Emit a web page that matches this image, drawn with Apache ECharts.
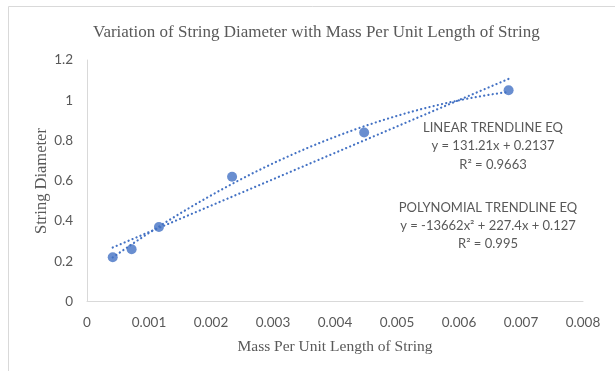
<!DOCTYPE html>
<html>
<head>
<meta charset="utf-8">
<script src="https://cdn.jsdelivr.net/npm/echarts@6/dist/echarts.min.js"></script>
<style>
html,body{margin:0;padding:0;background:#fff;}
#chart{width:615px;height:371px;}
</style>
</head>
<body>
<div id="chart"></div>
<script>
// Data
var massPerLength = [0.000415, 0.00072, 0.00116, 0.00234, 0.00447, 0.0068];
var stringDiameter = [0.22, 0.26, 0.37, 0.62, 0.84, 1.05];
// Trendline coefficients as printed on the chart
var linearCoef = [0.2137, 131.21];          // c0, c1
var polyCoef = [0.127, 227.4, -13662];      // c0, c1, c2
var xTicks = [0, 0.001, 0.002, 0.003, 0.004, 0.005, 0.006, 0.007, 0.008];
var yTicks = [0, 0.2, 0.4, 0.6, 0.8, 1, 1.2];
var titleText = 'Variation of String Diameter with Mass Per Unit Length of String';
var xName = 'Mass Per Unit Length of String';
var yName = 'String Diameter';
var linearLabel = ['LINEAR TRENDLINE EQ', 'y = 131.21x + 0.2137', 'R\u00B2 = 0.9663'];
var polyLabel = ['POLYNOMIAL TRENDLINE EQ', 'y = -13662x\u00B2 + 227.4x + 0.127', 'R\u00B2 = 0.995'];

function evalPoly(c, x) {
  var s = 0;
  for (var i = c.length - 1; i >= 0; i--) s = s * x + c[i];
  return s;
}
var xmin = Math.min.apply(null, massPerLength);
var xmax = Math.max.apply(null, massPerLength);
var linearLine = [[xmin, evalPoly(linearCoef, xmin)], [xmax, evalPoly(linearCoef, xmax)]];
var polyLine = [];
var N = 60;
for (var i = 0; i <= N; i++) {
  var xv = xmin + (xmax - xmin) * i / N;
  polyLine.push([xv, evalPoly(polyCoef, xv)]);
}
var points = massPerLength.map(function (x, i) { return [x, stringDiameter[i]]; });

var blue = '#4472C4';
var grey = '#595959';
var sans = 'Lato, "Open Sans", sans-serif';
var serif = '"Liberation Serif", "DejaVu Serif", serif';
var dotStyle = { color: blue, width: 2.2, type: [0.1, 4.2], cap: 'round' };

var chart = echarts.init(document.getElementById('chart'), null, { renderer: 'canvas' });
chart.setOption({
  animation: false,
  backgroundColor: '#ffffff',
  title: {
    text: titleText,
    left: 88,
    top: 19,
    textStyle: { fontFamily: serif, fontSize: 17, fontWeight: 'normal', color: grey }
  },
  grid: { left: 87, top: 60, width: 496, height: 241.5, containLabel: false },
  xAxis: {
    type: 'value',
    min: 0, max: 0.008, interval: 0.001,
    name: xName,
    nameLocation: 'middle',
    nameGap: 37,
    nameTextStyle: { fontFamily: serif, fontSize: 15.5, color: grey },
    axisLine: { show: true, lineStyle: { color: '#d9d9d9', width: 1 } },
    axisTick: { show: false },
    splitLine: { show: false },
    axisLabel: {
      margin: 14, fontFamily: sans, fontSize: 13.5, color: grey,
      formatter: function (v) { return String(Number(v.toFixed(3))); }
    }
  },
  yAxis: {
    type: 'value',
    min: 0, max: 1.2, interval: 0.2,
    axisLine: { show: true, lineStyle: { color: '#d9d9d9', width: 1 } },
    axisTick: { show: false },
    splitLine: { show: false },
    axisLabel: {
      margin: 14, fontFamily: sans, fontSize: 13.5, color: grey,
      formatter: function (v) { return String(Number(v.toFixed(1))); }
    }
  },
  series: [
    {
      type: 'line', data: linearLine, showSymbol: false, symbol: 'none',
      lineStyle: dotStyle, silent: true, z: 2
    },
    {
      type: 'line', data: polyLine, showSymbol: false, symbol: 'none', smooth: false,
      lineStyle: dotStyle, silent: true, z: 2
    },
    {
      type: 'scatter', data: points, symbol: 'circle', symbolSize: 10,
      itemStyle: { color: blue }, z: 3
    }
  ],
  graphic: [
    {
      type: 'rect', shape: { x: 8.5, y: 6.5, width: 640, height: 400 },
      style: { fill: 'none', stroke: '#d9d9d9', lineWidth: 1 }, silent: true
    },
    {
      type: 'text', x: 42, y: 181, rotation: Math.PI / 2,
      style: {
        text: yName, align: 'center', verticalAlign: 'middle',
        fontFamily: serif, fontSize: 16.5, fill: grey
      }
    },
    {
      type: 'text', x: 493, y: 146,
      style: {
        text: linearLabel.join('\n'), align: 'center', verticalAlign: 'middle',
        fontFamily: sans, fontSize: 13, lineHeight: 18.5, fill: grey
      }
    },
    {
      type: 'text', x: 488, y: 225.5,
      style: {
        text: polyLabel.join('\n'), align: 'center', verticalAlign: 'middle',
        fontFamily: sans, fontSize: 13, lineHeight: 18, fill: grey
      }
    }
  ]
});
</script>
</body>
</html>
